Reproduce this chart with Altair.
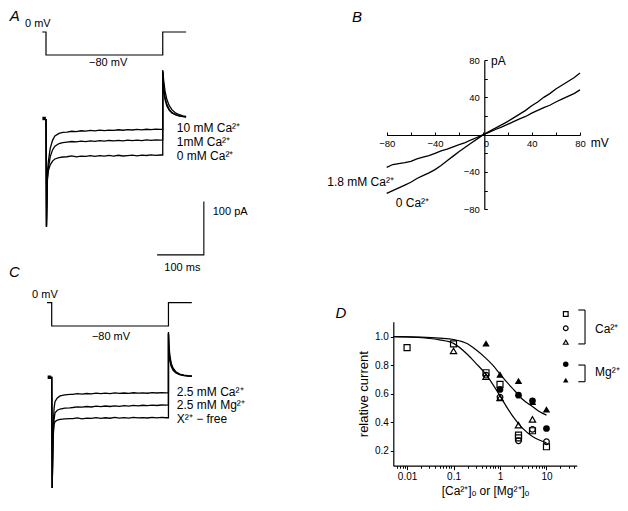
import altair as alt
import pandas as pd

FONT = "Liberation Sans"

# ---------------- Panel A : 0 -> -80 mV step, Ca2+ 10 / 1 / 0 mM ----------------
A_PROT_T = [-8, 0, 0, 250, 250, 300]
A_PROT_V = [0, 0, -80, -80, 0, 0]

A_SERIES = ["10 mM", "1 mM", "0 mM"]
EARLY_T = [0, 1, 3, 5, 9, 14, 19, 28, 36]
PLAT_T = [45, 55, 65, 75, 85, 95, 105, 115, 125, 135, 145, 155, 165, 175, 185, 195, 205, 215, 225, 235, 245]
A_EARLY = {
    "10 mM": [0, -202, -100, -80, -55, -40, -32, -27, -25],
    "1 mM": [0, -202, -110, -92, -71, -58, -51, -46, -44.5],
    "0 mM": [0, -202, -115, -97, -86, -79, -75, -72.5, -71.3],
}
A_PLAT = {
    "10 mM": [-24.5, -23.0, -23.8, -22.1, -22.9, -21.5, -22.3, -20.8, -21.7, -20.9, -21.4,
              -20.2, -21.1, -19.8, -20.6, -19.5, -20.4, -19.2, -20.1, -19.0, -19.6],
    "1 mM": [-43.5, -42.2, -43.0, -41.6, -42.4, -41.0, -41.9, -40.6, -41.5, -40.3, -41.2,
             -40.0, -40.9, -39.8, -40.7, -39.5, -40.4, -39.2, -40.1, -39.0, -39.6],
    "0 mM": [-70.8, -69.2, -71.0, -69.6, -70.3, -68.7, -70.1, -68.9, -69.8, -68.2, -69.5,
             -68.0, -69.4, -68.6, -67.9, -69.0, -67.6, -68.5, -67.2, -68.1, -67.5],
}
TAIL_T = [250, 250, 252, 255, 259, 264, 270, 278, 286, 293, 300]
A_TAIL = {
    "10 mM": [-19.3, 92, 72, 52, 36, 25, 17, 11, 8, 6, 5],
    "1 mM": [-39.4, 90, 60, 40, 27, 18, 12, 8, 6, 5, 4],
    "0 mM": [-67.5, 88, 55, 36, 24, 16, 11, 7.5, 5.5, 4.5, 3.5],
}
A_LABELS = ["10 mM Ca²⁺", "1mM Ca²⁺", "0 mM Ca²⁺"]
A_LABEL_I = [-17.5, -43.5, -69]

SCALEBAR_T = [238, 338, 338]
SCALEBAR_I = [-255, -255, -155]

# ---------------- Panel C : Ca2+ / Mg2+ / divalent-free ----------------
C_PROT_T = [-10, 0, 0, 250, 250, 300]
C_PROT_V = [0, 0, -80, -80, 0, 0]
C_SERIES = ["Ca", "Mg", "free"]
C_EARLY_T = [0, 1, 3, 5, 7, 12, 18, 28, 39]
C_EARLY = {
    "Ca": [0, -209, -100, -60, -47, -40, -36, -34, -33],
    "Mg": [0, -209, -110, -80, -68, -63, -60.6, -59, -58.3],
    "free": [0, -209, -115, -90, -84.4, -81.5, -80.2, -79.3, -78.8],
}
C_PLAT = {
    "Ca": [-33.0, -31.8, -32.6, -31.5, -32.2, -31.0, -31.9, -30.8, -31.6, -30.5, -31.4,
           -30.6, -31.2, -30.1, -30.9, -30.3, -31.0, -29.8, -30.6, -29.9, -30.2],
    "Mg": [-57.8, -56.5, -57.2, -55.9, -56.8, -55.4, -56.3, -55.0, -55.9, -54.6, -55.5,
           -54.3, -55.1, -53.9, -54.8, -53.6, -54.4, -53.2, -54.0, -53.1, -53.4],
    "free": [-78.5, -77.2, -79.0, -77.6, -78.3, -76.9, -78.1, -77.0, -77.9, -76.5, -77.6,
             -76.8, -77.8, -76.4, -77.3, -76.6, -77.5, -76.2, -77.1, -76.5, -77.0],
}
C_TAIL_T = [250, 250, 251, 253, 256, 260, 266, 274, 283, 292, 300]
C_TAIL = {
    "Ca": [-30, 84, 60, 40, 25, 16, 9, 5, 3, 2, 1.5],
    "Mg": [-53, 82, 55, 35, 22, 14, 8, 4.5, 2.5, 1.5, 1],
    "free": [-77, 80, 50, 30, 19, 12, 7, 4, 2, 1, 0.5],
}
C_LABELS = ["2.5 mM Ca²⁺", "2.5 mM Mg²⁺", "X²⁺ − free"]
C_LABEL_I = [-29.5, -54, -79]

# ---------------- Panel B : I-V relations ----------------
B_V = [-80, -75, -70, -65, -60, -55, -50, -45, -40, -35, -30, -25, -20, -15, -10, -5, 0,
       5, 10, 15, 20, 25, 30, 35, 40, 45, 50, 55, 60, 65, 70, 75, 80]
B_CA18 = [-35, -32, -31, -30, -28.6, -26, -24, -22.5, -20, -17.5, -15.5, -13, -10.7, -8.5, -5.5, -2.8, 0,
          2.6, 5.5, 8, 11, 14, 17, 19.5, 23, 26, 29, 31.5, 35, 38, 41, 44, 48]
B_CA0 = [-63, -60, -57, -54, -51, -47, -44, -41, -37.5, -33, -28, -23, -18, -13.5, -9, -4.5, 0,
         3.5, 7, 10.5, 14, 18, 22, 26, 31, 35, 40, 44, 49, 53, 57, 61, 66]
B_TICKS_MAJOR = [-80, -40, 0, 40, 80]
B_TICKS_X = [-80, -60, -40, -20, 0, 20, 40, 60, 80]
B_TICKS_Y = [-80, -60, -40, -20, 20, 40, 60, 80]
B_YLABELS = [-80, -40, 40, 80]

# ---------------- Panel D : dose-response ----------------
SQ_X = [0.01, 0.1, 0.5, 1, 2.5, 2.5, 5, 10]
SQ_Y = [0.923, 0.949, 0.747, 0.665, 0.31, 0.29, 0.34, 0.228]
OC_X = [0.5, 1, 2.5, 5, 10]
OC_Y = [0.73, 0.575, 0.27, 0.35, 0.263]
OT_X = [0.1, 0.5, 1, 2.5, 5]
OT_Y = [0.90, 0.72, 0.57, 0.38, 0.42]
FC_X = [1, 2.5, 5, 10]
FC_Y = [0.63, 0.59, 0.55, 0.356]
FT_X = [0.5, 1, 2.5, 5, 10]
FT_Y = [0.953, 0.735, 0.69, 0.544, 0.49]

FIT_X = [0.005, 0.01, 0.02, 0.05, 0.1, 0.2, 0.3, 0.5, 0.7, 1, 1.5, 2, 3, 5, 7, 10]
FIT_CA = [1.0, 0.998, 0.993, 0.978, 0.953, 0.875, 0.815, 0.735, 0.665, 0.585, 0.49, 0.43, 0.36, 0.30, 0.275, 0.256]
FIT_MG = [1.0, 0.999, 0.997, 0.99, 0.98, 0.95, 0.91, 0.848, 0.80, 0.738, 0.67, 0.626, 0.563, 0.51, 0.475, 0.45]

D_MAJOR = [0.01, 0.1, 1, 10]
D_MINOR = [0.006, 0.007, 0.008, 0.009, 0.01, 0.02, 0.03, 0.04, 0.05, 0.06, 0.07, 0.08, 0.09,
           0.1, 0.2, 0.3, 0.4, 0.5, 0.6, 0.7, 0.8, 0.9, 1, 2, 3, 4, 5, 6, 7, 8, 9, 10, 20, 30, 40]
D_YTICKS = [0.2, 0.4, 0.6, 0.8, 1.0]

LEG_SHAPES = ["square", "circle", "triangle-up", "circle", "triangle-up"]
LEG_FILLED = [False, False, False, True, True]
LEG_X = 26
LEG_Y = [1.159, 1.059, 0.961, 0.806, 0.696]
BRACKETS = {  # x, x2, y, y2
    "x": [67.5, 48.4, 48.4, 67.5, 48.4, 48.4],
    "x2": [67.5, 67.5, 67.5, 67.5, 67.5, 67.5],
    "y": [1.187, 1.187, 0.949, 0.801, 0.801, 0.684],
    "y2": [0.949, 1.187, 0.949, 0.684, 0.801, 0.684],
}
LEG_TEXT = ["Ca²⁺", "Mg²⁺"]
LEG_TEXT_Y = [1.054, 0.754]


# ---------------- helpers ----------------
def lin(domain, rng):
    return alt.Scale(domain=domain, range=rng, nice=False, zero=False)


def logs(domain, rng):
    return alt.Scale(type="log", domain=domain, range=rng, nice=False)


def trace_df(series, early_t, early, plat, tail_t, tail):
    rows = []
    for s in series:
        ts = early_t + PLAT_T + tail_t
        vs = early[s] + plat[s] + tail[s]
        for i, (t, v) in enumerate(zip(ts, vs)):
            rows.append({"t": t, "I": v, "series": s, "i": i})
    return pd.DataFrame(rows)


def text_layer(df, xs, ys, xf, yf, align="left", size=12, **kw):
    return alt.Chart(df).mark_text(align=align, baseline="middle", font=FONT, fontSize=size,
                                   color="black", **kw).encode(
        x=alt.X(xf, type="quantitative", scale=xs, axis=None),
        y=alt.Y(yf, type="quantitative", scale=ys, axis=None),
        text="label:N")


layers = []

# ---------- Panel A ----------
A_T = lin([0, 250], [38, 154.75])
A_I = lin([-200, 0], [217.6, 111])
A_V = lin([-80, 0], [47, 24])

prot_a = pd.DataFrame({"t": A_PROT_T, "v": A_PROT_V, "i": range(len(A_PROT_T))})
layers.append(alt.Chart(prot_a).mark_line(color="black", strokeWidth=1.2).encode(
    x=alt.X("t:Q", scale=A_T, axis=None), y=alt.Y("v:Q", scale=A_V, axis=None), order="i:Q"))

tr_a = trace_df(A_SERIES, EARLY_T, A_EARLY, A_PLAT, TAIL_T, A_TAIL)
layers.append(alt.Chart(tr_a).mark_line(color="black", strokeWidth=1.3).encode(
    x=alt.X("t:Q", scale=A_T, axis=None), y=alt.Y("I:Q", scale=A_I, axis=None),
    detail="series:N", order="i:Q"))

layers.append(alt.Chart(pd.DataFrame({"t": [-4], "I": [1]})).mark_square(
    color="black", size=12, opacity=1).encode(
    x=alt.X("t:Q", scale=A_T, axis=None), y=alt.Y("I:Q", scale=A_I, axis=None)))

sb = pd.DataFrame({"t": SCALEBAR_T, "I": SCALEBAR_I, "i": [0, 1, 2]})
layers.append(alt.Chart(sb).mark_line(color="black", strokeWidth=1.1).encode(
    x=alt.X("t:Q", scale=A_T, axis=None), y=alt.Y("I:Q", scale=A_I, axis=None), order="i:Q"))

layers.append(text_layer(pd.DataFrame({"t": [280] * 3, "I": A_LABEL_I, "label": A_LABELS}),
                         A_T, A_I, "t", "I"))
layers.append(text_layer(pd.DataFrame({"t": [357], "I": [-174], "label": ["100 pA"]}),
                         A_T, A_I, "t", "I", size=11))
layers.append(text_layer(pd.DataFrame({"t": [292], "I": [-280], "label": ["100 ms"]}),
                         A_T, A_I, "t", "I", align="center", size=11))
layers.append(text_layer(pd.DataFrame({"t": [-45], "v": [28], "label": ["0 mV"]}),
                         A_T, A_V, "t", "v", size=11))
layers.append(text_layer(pd.DataFrame({"t": [133], "v": [-108], "label": ["−80 mV"]}),
                         A_T, A_V, "t", "v", align="center", size=11))
layers.append(text_layer(pd.DataFrame({"t": [-67], "v": [55], "label": ["A"]}),
                         A_T, A_V, "t", "v", align="center", size=15, fontStyle="italic"))

# ---------- Panel C ----------
C_T = lin([0, 250], [43.7, 160.45])
C_I = lin([-200, 0], [475.3, 368.7])
C_V = lin([-80, 0], [318, 294.7])

prot_c = pd.DataFrame({"t": C_PROT_T, "v": C_PROT_V, "i": range(len(C_PROT_T))})
layers.append(alt.Chart(prot_c).mark_line(color="black", strokeWidth=1.2).encode(
    x=alt.X("t:Q", scale=C_T, axis=None), y=alt.Y("v:Q", scale=C_V, axis=None), order="i:Q"))

tr_c = trace_df(C_SERIES, C_EARLY_T, C_EARLY, C_PLAT, C_TAIL_T, C_TAIL)
layers.append(alt.Chart(tr_c).mark_line(color="black", strokeWidth=1.3).encode(
    x=alt.X("t:Q", scale=C_T, axis=None), y=alt.Y("I:Q", scale=C_I, axis=None),
    detail="series:N", order="i:Q"))

layers.append(alt.Chart(pd.DataFrame({"t": [-5], "I": [-1]})).mark_square(
    color="black", size=12, opacity=1).encode(
    x=alt.X("t:Q", scale=C_T, axis=None), y=alt.Y("I:Q", scale=C_I, axis=None)))

layers.append(text_layer(pd.DataFrame({"t": [268] * 3, "I": C_LABEL_I, "label": C_LABELS}),
                         C_T, C_I, "t", "I"))
layers.append(text_layer(pd.DataFrame({"t": [-42], "v": [26], "label": ["0 mV"]}),
                         C_T, C_V, "t", "v", size=11))
layers.append(text_layer(pd.DataFrame({"t": [127], "v": [-119], "label": ["−80 mV"]}),
                         C_T, C_V, "t", "v", align="center", size=11))
layers.append(text_layer(pd.DataFrame({"t": [-80], "v": [105], "label": ["C"]}),
                         C_T, C_V, "t", "v", align="center", size=15, fontStyle="italic"))

# ---------- Panel B ----------
B_X = lin([-80, 80], [378.7, 572])
B_Y = lin([-80, 80], [201.3, 52])

iv = pd.DataFrame({"v": B_V * 2, "I": B_CA18 + B_CA0,
                   "series": ["1.8"] * len(B_V) + ["0"] * len(B_V)})
layers.append(alt.Chart(iv).mark_line(color="black", strokeWidth=1.3).encode(
    x=alt.X("v:Q", scale=B_X, axis=alt.Axis(
        orient="bottom", offset=-368, values=B_TICKS_MAJOR, ticks=False, tickSize=0,
        labelPadding=3, labelFontSize=9.5, title=None, domainColor="black", domainWidth=1.2,
        labelAlign={"condition": {"test": "datum.value == 0", "value": "left"}, "value": "center"})),
    y=alt.Y("I:Q", scale=B_Y, axis=alt.Axis(
        orient="left", offset=-476.3, values=B_YLABELS, ticks=False, tickSize=0,
        labelPadding=5, labelFontSize=9.5, title=None, domainColor="black", domainWidth=1.2)),
    detail="series:N"))

b_lab = pd.DataFrame({"v": [-74], "I": [-51], "label": ["1.8 mM Ca²⁺"]})
layers.append(alt.Chart(b_lab).mark_text(align="right", baseline="middle", font=FONT, fontSize=12,
                                         color="black").encode(
    x=alt.X("v:Q", scale=B_X, axis=alt.Axis(
        orient="top", offset=-127, values=B_TICKS_X, labels=False, domain=False,
        tickSize=3, tickColor="black", title=None)),
    y=alt.Y("I:Q", scale=B_Y, axis=alt.Axis(
        orient="right", offset=-135.7, values=B_TICKS_Y, labels=False, domain=False,
        tickSize=3, tickColor="black", title=None)),
    text="label:N"))
layers.append(text_layer(pd.DataFrame({"v": [-72.5], "I": [-73], "label": ["0 Ca²⁺"]}),
                         B_X, B_Y, "v", "I"))
layers.append(text_layer(pd.DataFrame({"v": [6.4], "I": [79], "label": ["pA"]}),
                         B_X, B_Y, "v", "I"))
layers.append(text_layer(pd.DataFrame({"v": [89], "I": [-8.6], "label": ["mV"]}),
                         B_X, B_Y, "v", "I"))
layers.append(text_layer(pd.DataFrame({"v": [-104.5], "I": [126.5], "label": ["B"]}),
                         B_X, B_Y, "v", "I", align="center", size=15, fontStyle="italic"))

# ---------- Panel D ----------
D_X = logs([0.00506, 44.7], [385.3, 568.7])
D_Y = lin([0.095, 1.105], [457.7, 313.7])
MAJ = "indexof([0.01, 0.1, 1, 10], datum.value) >= 0"

fit = pd.DataFrame({"c": FIT_X * 2, "r": FIT_CA + FIT_MG,
                    "series": ["Ca"] * len(FIT_X) + ["Mg"] * len(FIT_X)})
layers.append(alt.Chart(fit).mark_line(color="black", strokeWidth=1.2, interpolate="monotone").encode(
    x=alt.X("c:Q", scale=D_X, axis=alt.Axis(
        orient="bottom", offset=-37.3, values=D_MINOR, format="~g", labelExpr=f"{MAJ} ? datum.label : ''",
        tickSize={"condition": {"test": MAJ, "value": 4}, "value": 2.5},
        labelPadding=2, labelFontSize=10, domainColor="black", tickColor="black", domainWidth=1.2,
        title="[Ca²⁺]ₒ or [Mg²⁺]ₒ", titleFontSize=12, titleFontWeight="normal",
        titlePadding=4, titleColor="black")),
    y=alt.Y("r:Q", scale=D_Y, axis=alt.Axis(
        orient="left", offset=-385.3, values=D_YTICKS, format=".1f", tickSize=3,
        labelPadding=2, labelFontSize=10, domainColor="black", tickColor="black", domainWidth=1.2,
        title="relative current", titleFontSize=13, titleFontWeight="normal",
        titlePadding=4, titleColor="black")),
    detail="series:N"))


def pts(xs, ys, shape, filled, size):
    df = pd.DataFrame({"c": xs, "r": ys})
    return alt.Chart(df).mark_point(shape=shape, filled=filled, color="black", opacity=1,
                                    size=size, strokeWidth=1.2).encode(
        x=alt.X("c:Q", scale=D_X, axis=None), y=alt.Y("r:Q", scale=D_Y, axis=None))


layers.append(pts(SQ_X, SQ_Y, "square", False, 36))
layers.append(pts(OC_X, OC_Y, "circle", False, 32))
layers.append(pts(OT_X, OT_Y, "triangle-up", False, 40))
layers.append(pts(FC_X, FC_Y, "circle", True, 45))
layers.append(pts(FT_X, FT_Y, "triangle-up", True, 55))

for shp, fl, ly in zip(LEG_SHAPES, LEG_FILLED, LEG_Y):
    layers.append(pts([LEG_X], [ly], shp, fl, 30 if fl else 22))

br = pd.DataFrame(BRACKETS)
layers.append(alt.Chart(br).mark_rule(color="black", strokeWidth=1.1).encode(
    x=alt.X("x:Q", scale=D_X, axis=None), x2="x2:Q",
    y=alt.Y("y:Q", scale=D_Y, axis=None), y2="y2:Q"))
layers.append(text_layer(pd.DataFrame({"c": [110.7] * 2, "r": LEG_TEXT_Y, "label": LEG_TEXT}),
                         D_X, D_Y, "c", "r"))
layers.append(text_layer(pd.DataFrame({"c": [0.00038], "r": [1.166], "label": ["D"]}),
                         D_X, D_Y, "c", "r", align="center", size=15, fontStyle="italic"))

chart = alt.layer(*layers).resolve_scale(x="independent", y="independent").properties(
    width=612, height=495, autosize=alt.AutoSizeParams(type="none"), padding=0
).configure_view(stroke=None).configure_axis(
    labelFont=FONT, titleFont=FONT, labelColor="black", grid=False
)

chart.save("out.html", embed_options={"renderer": "svg", "actions": False})
